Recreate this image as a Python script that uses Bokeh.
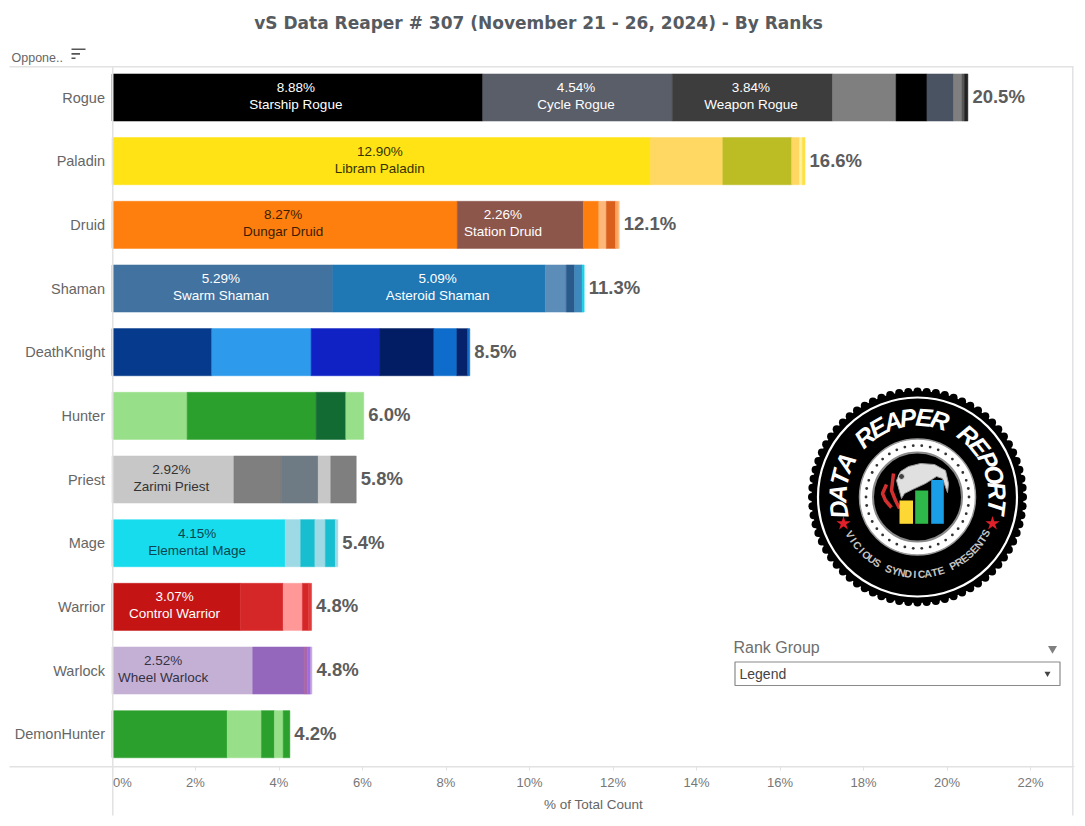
import math
from bokeh.core.properties import value
from bokeh.embed import file_html
from bokeh.models import ColumnDataSource, FixedTicker, PrintfTickFormatter, Range1d, Title
from bokeh.plotting import figure
from bokeh.resources import INLINE

classes = ["Rogue", "Paladin", "Druid", "Shaman", "DeathKnight", "Hunter", "Priest", "Mage", "Warrior", "Warlock", "DemonHunter"]
total_labels = ["20.5%", "16.6%", "12.1%", "11.3%", "8.5%", "6.0%", "5.8%", "5.4%", "4.8%", "4.8%", "4.2%"]
x_ticks = [0, 2, 4, 6, 8, 10, 12, 14, 16, 18, 20, 22]

rogue_values = [8.88, 4.54, 3.84, 1.52, 0.74, 0.64, 0.20, 0.06, 0.08]
rogue_colors = ["#000000", "#5a5e68", "#3d3d3d", "#7f7f7f", "#000000", "#4a5362", "#7f7f7f", "#555555", "#222222"]
rogue_names = ["Starship Rogue", "Cycle Rogue", "Weapon Rogue"]
rogue_text = ["#ffffff", "#ffffff", "#ffffff"]

paladin_values = [12.90, 1.73, 1.65, 0.19, 0.06, 0.07]
paladin_colors = ["#ffe314", "#fed862", "#bcbc24", "#fed862", "#fff3a0", "#ffe04a"]
paladin_names = ["Libram Paladin"]
paladin_text = ["#333300"]

druid_values = [8.27, 2.26, 0.76, 0.37, 0.18, 0.22, 0.06, 0.03]
druid_colors = ["#ff7f0e", "#8c564b", "#8c564b", "#ff7f0e", "#fdb77a", "#d95f1c", "#ffa05c", "#ffbb78"]
druid_names = ["Dungar Druid", "Station Druid"]
druid_text = ["#3b1d02", "#ffffff"]

shaman_values = [5.29, 5.09, 0.50, 0.20, 0.18, 0.05]
shaman_colors = ["#42729f", "#1f77b4", "#5b8db8", "#2a5a8c", "#3f88bd", "#19d3ea"]
shaman_names = ["Swarm Shaman", "Asteroid Shaman"]
shaman_text = ["#ffffff", "#ffffff"]

dk_values = [2.39, 2.38, 1.65, 1.29, 0.55, 0.26, 0.05]
dk_colors = ["#063a8c", "#2e9aeb", "#1122c4", "#021d63", "#0e6dcc", "#05226b", "#0e6dcc"]
hunter_values = [1.80, 3.09, 0.71, 0.43]
hunter_colors = ["#98df8a", "#2ca02c", "#116b32", "#98df8a"]

priest_values = [2.92, 1.13, 0.89, 0.30, 0.61]
priest_colors = ["#c7c7c7", "#7f7f7f", "#6e7b84", "#c7c7c7", "#7f7f7f"]
priest_names = ["Zarimi Priest"]
priest_text = ["#333333"]

mage_values = [4.15, 0.37, 0.34, 0.25, 0.24, 0.06]
mage_colors = ["#17dcee", "#9edae5", "#17becf", "#9edae5", "#17becf", "#9edae5"]
mage_names = ["Elemental Mage"]
mage_text = ["#0b4650"]

warrior_values = [3.07, 1.03, 0.46, 0.15, 0.07]
warrior_colors = ["#c41414", "#d62728", "#ff9896", "#d62728", "#e03a3a"]
warrior_names = ["Control Warrior"]
warrior_text = ["#ffffff"]

warlock_values = [2.52, 0.85, 1.23, 0.08, 0.08, 0.03]
warlock_colors = ["#c5b0d5", "#c5b0d5", "#9467bd", "#a868a8", "#a06be0", "#c5b0d5"]
warlock_names = ["Wheel Warlock"]
warlock_text = ["#333344"]

dh_values = [2.76, 0.82, 0.31, 0.21, 0.16]
dh_colors = ["#2ca02c", "#98df8a", "#2ca02c", "#98df8a", "#2ca02c"]

series = [
    (rogue_values, rogue_colors, rogue_names, rogue_text),
    (paladin_values, paladin_colors, paladin_names, paladin_text),
    (druid_values, druid_colors, druid_names, druid_text),
    (shaman_values, shaman_colors, shaman_names, shaman_text),
    (dk_values, dk_colors, [], []),
    (hunter_values, hunter_colors, [], []),
    (priest_values, priest_colors, priest_names, priest_text),
    (mage_values, mage_colors, mage_names, mage_text),
    (warrior_values, warrior_colors, warrior_names, warrior_text),
    (warlock_values, warlock_colors, warlock_names, warlock_text),
    (dh_values, dh_colors, [], []),
]

FONT = "Liberation Sans"
W, H = 1082, 822
TOP = 40                 # top of the plot frame, below the title band
X0, XU = 111.5, 41.75    # page x of 0 % and pixels per 1 %
Y0, YU = 97, 63.67       # page y of the first row and pixels per row
AXIS_Y = 766             # page y of the value axis

p = figure(width=W, height=H, output_backend="svg", toolbar_location=None,
           x_range=Range1d(-X0 / XU, (W - X0) / XU),
           y_range=Range1d((H - Y0) / YU, (TOP - Y0) / YU),
           min_border_left=0, min_border_right=0, min_border_top=TOP, min_border_bottom=0,
           outline_line_color=None, background_fill_color="#ffffff")
# A second pair of ranges in page pixels, for the sheet's furniture and the logo
p.extra_x_ranges["px"] = Range1d(0, W)
p.extra_y_ranges["px"] = Range1d(H, TOP)
PX = dict(x_range_name="px", y_range_name="px")
p.grid.visible = False

p.title = Title(text="vS Data Reaper #  307 (November 21 - 26, 2024) - By Ranks", align="center",
                text_font="DejaVu Sans", text_font_size="17px", text_font_style="bold",
                text_color="#555b61", standoff=16)

AXIS_C = "#e2e2e2"
xa = p.xaxis[0]
xa.fixed_location = (AXIS_Y - Y0) / YU
xa.bounds = (0, 2 * (592.5 - X0) / XU)
xa.ticker = FixedTicker(ticks=x_ticks)
xa.formatter = PrintfTickFormatter(format="%d%%")
xa.major_label_overrides = {0: " "}
xa.axis_label = "% of Total Count"
xa.axis_label_text_font = FONT
xa.axis_label_text_font_style = "normal"
xa.axis_label_text_font_size = "13.5px"
xa.axis_label_text_color = "#666666"
xa.axis_label_standoff = 4
xa.major_label_text_font = FONT
xa.major_label_text_font_size = "13px"
xa.major_label_text_color = "#777777"
xa.major_label_standoff = 4
xa.axis_line_color = AXIS_C
xa.major_tick_line_color = AXIS_C
xa.major_tick_in = 0
xa.major_tick_out = 4
xa.minor_tick_line_color = None

ya = p.yaxis[0]
ya.fixed_location = 0
ya.ticker = FixedTicker(ticks=list(range(len(classes))))
ya.major_label_overrides = {i: c for i, c in enumerate(classes)}
ya.major_label_text_font = FONT
ya.major_label_text_font_size = "14.5px"
ya.major_label_text_color = "#666666"
ya.major_label_standoff = 7
ya.axis_line_color = None
ya.major_tick_line_color = None
ya.major_tick_in = 0
ya.major_tick_out = 0
ya.minor_tick_line_color = None

# Stacked bars; neighbouring segments of one colour are drawn as a single mark so no seam shows
seg = dict(y=[], left=[], right=[], color=[])
txt = dict(y=[], x=[], pct=[], name=[], color=[])
tot = dict(y=[], x=[], label=[])
for row, (label_text, (vals, cols, names, tcols)) in enumerate(zip(total_labels, series)):
    run = 0.0
    for i, (v, c) in enumerate(zip(vals, cols)):
        if i and cols[i - 1] == c:
            seg["right"][-1] = run + v
        else:
            seg["y"].append(row); seg["left"].append(run); seg["right"].append(run + v); seg["color"].append(c)
        if i < len(names):
            txt["y"].append(row); txt["x"].append(run + v / 2); txt["pct"].append(f"{v:.2f}%")
            txt["name"].append(names[i]); txt["color"].append(tcols[i])
        run += v
    tot["y"].append(row); tot["x"].append(run); tot["label"].append(label_text)

p.hbar(y="y", left="left", right="right", height=0.74, fill_color="color", line_color="color", line_width=0.5,
       source=ColumnDataSource(seg))
ts = ColumnDataSource(txt)
p.text(x="x", y="y", text="pct", text_color="color", text_font=value(FONT), text_font_size="13.5px",
       text_align="center", text_baseline="middle", x_offset=-1.5, y_offset=-10, source=ts)
p.text(x="x", y="y", text="name", text_color="color", text_font=value(FONT), text_font_size="13.5px",
       text_align="center", text_baseline="middle", x_offset=-1.5, y_offset=7, source=ts)
p.text(x="x", y="y", text="label", text_color="#5c5c5c", text_font=value(FONT), text_font_size="18.5px",
       text_font_style="bold", text_align="left", text_baseline="middle", x_offset=4.5, y_offset=-1,
       source=ColumnDataSource(tot))


def box(l, r, t, b, fill, line=None, lw=1):
    p.quad(left=[l], right=[r], top=[t], bottom=[b], fill_color=fill, line_color=line, line_width=lw, **PX)


def label(x, y, text, size, color, align="left"):
    p.text(x=[x], y=[y], text=[text], text_font=value(FONT), text_font_size=size, text_color=color,
           text_align=align, text_baseline="middle", **PX)


# Sheet rules
box(9, 1073, 65.5, 67, AXIS_C)
box(9, 1073, 765.5, 767, AXIS_C)
box(111.5, 113, 66, 815, AXIS_C)
box(1071.5, 1073, 66, 815, AXIS_C)

label(11, 57, "Oppone..", "12.5px", "#666666")
label(122, 782, "0%", "13px", "#777777", align="center")
box(71, 85, 48, 49.6, "#555555")
box(71, 79.5, 52.6, 54.2, "#555555")
box(71, 75, 57, 58.6, "#555555")

# Rank Group control
box(734.5, 1059.5, 661.5, 685, "#ffffff", "#8a8a8a", 1.2)
label(733, 647, "Rank Group", "16px", "#6e6e6e")
label(739, 673.5, "Legend", "14px", "#444444")
p.scatter(x=[1052, 1047], y=[648, 673], marker="inverted_triangle", size=[9, 6], fill_color=["#808080", "#444444"],
          line_color=None, **PX)

# Data Reaper Report logo (page-pixel coordinates)
CX, CY = 917, 496.5
logo_bars = [(899, 912.5, 500, "#fdd835"), (914.7, 927.7, 490, "#2fb84a"), (930.7, 943.3, 479.5, "#1a9ee6")]
n = 72
p.circle(x=[CX + 105.5 * math.cos(2 * math.pi * i / n) for i in range(n)],
         y=[CY + 105.5 * math.sin(2 * math.pi * i / n) for i in range(n)], radius=4, fill_color="#000000",
         line_color=None, **PX)
p.circle(x=[CX], y=[CY], radius=106, fill_color="#000000", line_color=None, **PX)
p.circle(x=[CX], y=[CY], radius=99.5, fill_color=None, line_color="#ffffff", line_width=2.2, **PX)
p.circle(x=[CX], y=[CY], radius=58, fill_color="#ffffff", line_color="#9a9a9a", line_width=1.5, **PX)
p.circle(x=[CX], y=[CY], radius=44.5, fill_color="#000000", line_color="#8a8a8a", line_width=2, **PX)
n = 38
p.circle(x=[CX + 51.5 * math.cos(2 * math.pi * i / n) for i in range(n)],
         y=[CY + 51.5 * math.sin(2 * math.pi * i / n) for i in range(n)], radius=1.4, fill_color="#333333",
         line_color=None, **PX)
# Reaper hood and scythe
p.patch(x=[896, 900, 908, 920, 934, 945, 948, 947, 942, 936, 925, 912, 904, 901],
        y=[480, 471, 466, 463, 464, 470, 483, 492, 478, 476, 483, 489, 493, 498],
        fill_color="#e0e0e0", line_color="#9a9a9a", **PX)
p.circle(x=[901], y=[476], radius=3, fill_color="#444444", line_color="#dddddd", **PX)
p.line(x=[893, 891, 895, 899], y=[473, 490, 500, 508], line_color="#d32f2f", line_width=3.5, **PX)
p.line(x=[886, 882, 885, 891], y=[484, 493, 500, 507], line_color="#d32f2f", line_width=3.5, **PX)
for x0, x1, top, c in logo_bars:
    p.quad(left=[x0], right=[x1], top=[top], bottom=[523.3], fill_color=c, line_color=None, **PX)
p.scatter(x=[843, 992], y=[523, 523], marker="star", size=15, fill_color="#e0202a", line_color=None, **PX)


def arc_text(text, r, start, stop, size, color, flip=False, style="bold italic"):
    n = len(text)
    xs, ys, angs = [], [], []
    for i in range(n):
        th = math.radians(start + (stop - start) * i / (n - 1))
        xs.append(CX + r * math.cos(th))
        ys.append(CY - r * math.sin(th))
        angs.append(th + math.pi / 2 if flip else th - math.pi / 2)
    p.text(x=xs, y=ys, text=list(text), angle=angs, text_color=color, text_font=value(FONT),
           text_font_size=size, text_font_style=style, text_align="center", text_baseline="middle", **PX)


arc_text("DATA REAPER REPORT", 80, 189, -7, "25px", "#ffffff")
arc_text("VICIOUS SYNDICATE PRESENTS", 77, 209, 332, "10.5px", "#c4c4c4", flip=True, style="bold")

open("out.html", "w").write(file_html(p, INLINE))
